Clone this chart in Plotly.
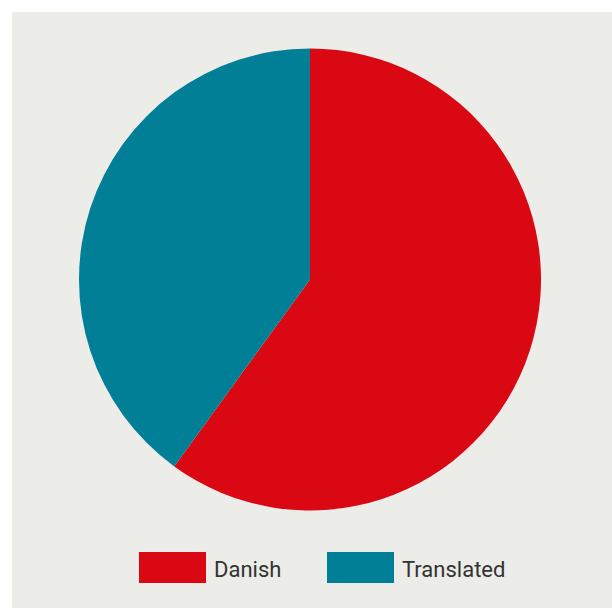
import plotly.graph_objects as go

# Share of titles
labels = ["Danish", "Translated"]
values = [60, 40]
colors = ["#D90812", "#007F96"]

W, H = 612, 608
bg = "#ECECE8"

fig = go.Figure()

fig.add_trace(go.Pie(
    labels=labels,
    values=values,
    marker=dict(colors=colors, line=dict(width=0)),
    sort=False,
    direction="clockwise",
    rotation=0,
    textinfo="none",
    hoverinfo="label+percent",
    domain=dict(x=[79 / W, 541 / W], y=[1 - 511 / H, 1 - 48 / H]),
    showlegend=False,
))

# panel background (white strip on top and left)
shapes = [dict(type="rect", xref="paper", yref="paper", x0=12 / W, x1=1, y0=0, y1=1 - 12 / H,
               fillcolor=bg, line=dict(width=0), layer="below")]

# custom legend swatches + labels
annotations = []
legend_x = [139, 327]
for lab, col, lx in zip(labels, colors, legend_x):
    shapes.append(dict(type="rect", xref="paper", yref="paper",
                       x0=lx / W, x1=(lx + 67) / W, y0=1 - 583 / H, y1=1 - 552 / H,
                       fillcolor=col, line=dict(width=0)))
    annotations.append(dict(text=lab, xref="paper", yref="paper", x=(lx + 73) / W, y=1 - 569 / H,
                            xanchor="left", yanchor="middle", showarrow=False,
                            font=dict(family="Roboto", size=22, color="#333333")))

fig.update_layout(
    width=W, height=H,
    margin=dict(l=0, r=0, t=0, b=0),
    paper_bgcolor="white",
    plot_bgcolor="white",
    shapes=shapes,
    annotations=annotations,
)

# drop the browser's default body margin so the figure sits at the page corner
fig.write_html("out.html", config={"displayModeBar": False},
               post_script="document.body.style.margin='0';")
